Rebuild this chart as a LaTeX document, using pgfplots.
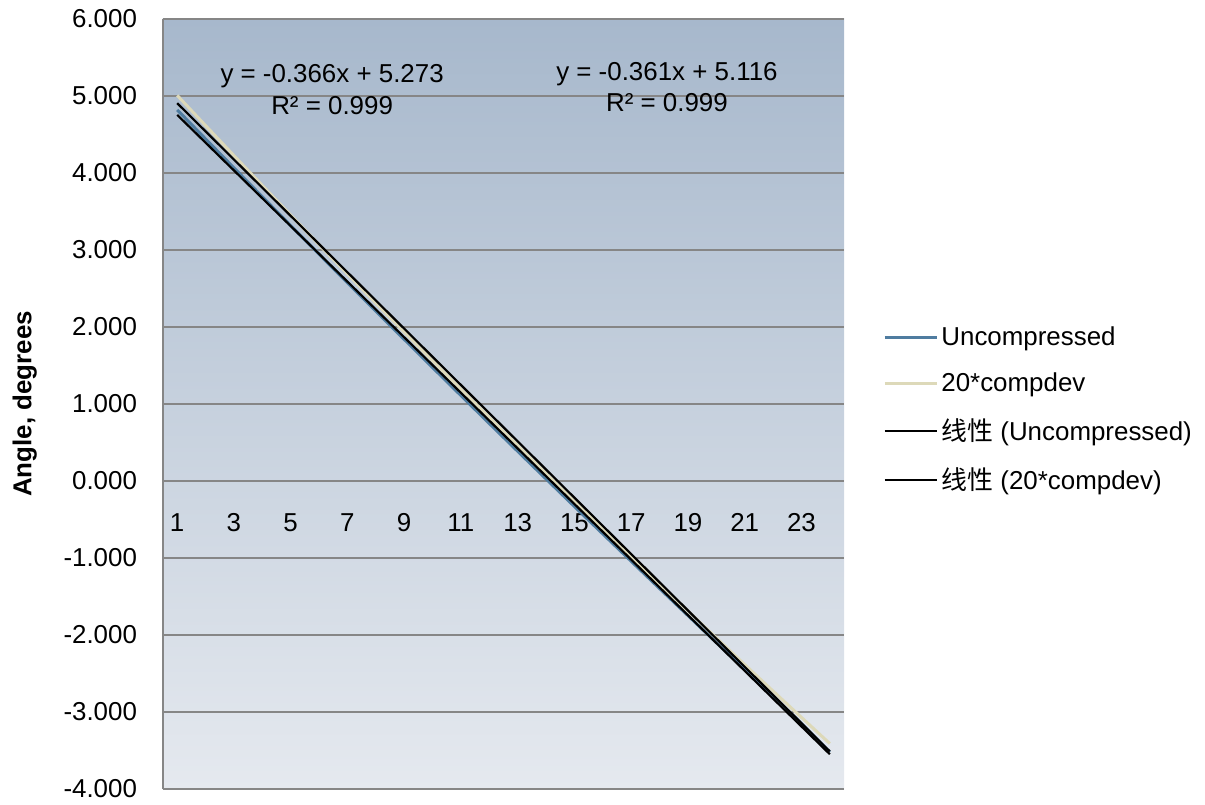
\documentclass[border=0pt]{standalone}
\usepackage{pgfplots}
\pgfplotsset{compat=1.18}
\usepackage{fontspec}
\setmainfont{Liberation Sans}
\newfontfamily\cjk{Noto Sans CJK SC}
\newcommand\fs{\fontsize{13}{15.6}\selectfont}
\definecolor{bgtop}{RGB}{167,184,204}
\definecolor{bgbot}{RGB}{229,233,239}
\definecolor{uncol}{RGB}{79,124,160}
\definecolor{cdcol}{RGB}{221,217,185}
\definecolor{gridc}{RGB}{134,134,134}
\begin{document}
\begin{tikzpicture}
\begin{axis}[name=ax, scale only axis, width=340.5bp, height=385bp,
  xmin=0.5, xmax=24.5, ymin=-4, ymax=6,
  xtick={1,3,...,23}, xticklabels={1,3,5,7,9,11,13,15,17,19,21,23},
  ytick={-4,-3,...,6},
  yticklabels={-4.000,-3.000,-2.000,-1.000,0.000,1.000,2.000,3.000,4.000,5.000,6.000},
  major tick length=0pt,
  ymajorgrids, major grid style={gridc, line width=1bp},
  axis x line*=bottom, axis y line*=left,
  x axis line style={draw=none},
  y axis line style={-, draw=gridc, line width=1bp},
  axis background/.style={top color=bgtop, bottom color=bgbot},
  tick label style={font=\fs},
  xticklabel style={anchor=base, yshift=129bp},
  yticklabel style={xshift=-9.5bp},
  ylabel={Angle, degrees},
  ylabel style={font=\fs\bfseries, at={(axis description cs:-0.203,0.5)}, anchor=center},
  legend style={font=\fs, draw=none, fill=none, inner sep=0pt,
    at={(axis description cs:1.0573,0.493)}, anchor=west, row sep=9.2bp,
    nodes={inner sep=1.5bp}},
  legend cell align=left,
  legend image code/.code={\draw[#1, line width=1bp] (0bp,0bp) -- (25bp,0bp); \path (0bp,0bp) -- (26bp,0bp);},
]
\addplot[uncol, line width=1.5bp] coordinates {
(1,4.820) (2,4.442) (3,4.066) (4,3.691) (5,3.317) (6,2.946) (7,2.575) (8,2.207)
(9,1.840) (10,1.474) (11,1.110) (12,0.747) (13,0.386) (14,0.027) (15,-0.331) (16,-0.687)
(17,-1.042) (18,-1.396) (19,-1.747) (20,-2.098) (21,-2.446) (22,-2.795) (23,-3.150) (24,-3.520)};
\addlegendentry{Uncompressed}
\addplot[cdcol, line width=1.5bp] coordinates {
(1,5.008) (2,4.616) (3,4.226) (4,3.838) (5,3.453) (6,3.070) (7,2.690) (8,2.312)
(9,1.936) (10,1.563) (11,1.192) (12,0.824) (13,0.458) (14,0.094) (15,-0.267) (16,-0.626)
(17,-0.982) (18,-1.336) (19,-1.688) (20,-2.037) (21,-2.384) (22,-2.728) (23,-3.070) (24,-3.410)};
\addlegendentry{20*compdev}
\addplot[black, line width=1.1bp] coordinates {(1,4.755) (24,-3.548)};
\addlegendentry{{\cjk 线性} (Uncompressed)}
\addplot[black, line width=1.1bp] coordinates {(1,4.907) (24,-3.511)};
\addlegendentry{{\cjk 线性} (20*compdev)}
\node[font=\fs] at (axis cs:6.46,5.26) {y = -0.366x + 5.273};
\node[font=\fs] at (axis cs:6.46,4.87) {R² = 0.999};
\node[font=\fs] at (axis cs:18.26,5.29) {y = -0.361x + 5.116};
\node[font=\fs] at (axis cs:18.26,4.91) {R² = 0.999};
\end{axis}
\path[use as bounding box] ([xshift=-81.5bp,yshift=-5.5bp]ax.south west) rectangle ++(602.5bp,400bp);
\end{tikzpicture}
\end{document}
